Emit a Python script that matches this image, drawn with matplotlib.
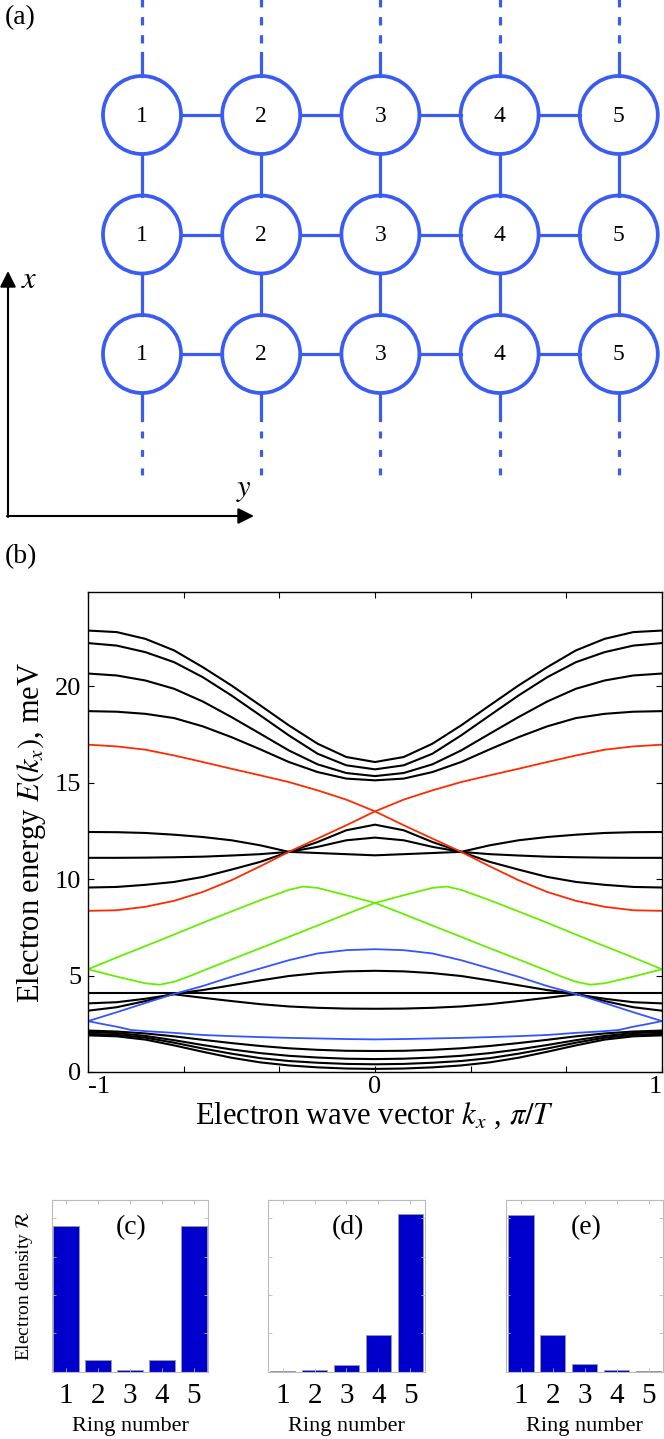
import matplotlib
matplotlib.use("Agg")
import matplotlib.pyplot as plt
import numpy as np
from matplotlib.patches import Circle

plt.rcParams['font.family'] = ['Liberation Serif', 'DejaVu Serif']
plt.rcParams['mathtext.fontset'] = 'stix'
plt.rcParams['lines.scale_dashes'] = False

# ---------------- data ----------------
# ring lattice (a)
ring_labels = ['1', '2', '3', '4', '5']
n_rows = 3

# band structure (b): values read for kx >= 0, mirrored for kx < 0
k = [0.0, 0.1, 0.2, 0.3, 0.4, 0.5, 0.6, 0.7, 0.8, 0.9, 1.0]

top1 = [16.08, 16.34, 17.03, 17.98, 19.02, 20.05, 21.00, 21.87, 22.47, 22.82, 22.90]
top2 = [15.70, 15.91, 16.51, 17.46, 18.50, 19.53, 20.48, 21.26, 21.78, 22.12, 22.25]
top3 = [15.35, 15.51, 15.96, 16.68, 17.55, 18.41, 19.22, 19.88, 20.31, 20.57, 20.67]
top4 = [15.13, 15.22, 15.56, 16.08, 16.74, 17.37, 17.93, 18.36, 18.58, 18.69, 18.72]

red_up = [13.52, 14.13, 14.61, 15.04, 15.39, 15.73, 16.08, 16.42, 16.72, 16.89, 16.98]
red_dn = [13.52, 12.80, 12.11, 11.42, 10.67, 9.95, 9.34, 8.88, 8.57, 8.39, 8.36]

mid_u = [12.83, 12.54, 11.93, 11.42, 11.76, 12.02, 12.19, 12.31, 12.40, 12.44, 12.45]
mid_m = [12.16, 12.02, 11.68, 11.42, 11.30, 11.23, 11.17, 11.14, 11.12, 11.11, 11.11]
mid_l = [11.24, 11.30, 11.36, 11.42, 10.90, 10.50, 10.12, 9.86, 9.71, 9.60, 9.57]

k_g1 = [0.0, 0.1, 0.2, 0.25, 0.3, 0.4, 0.5, 0.6, 0.7, 0.8, 0.9, 1.0]
green1 = [8.77, 9.17, 9.55, 9.62, 9.45, 8.91, 8.33, 7.74, 7.13, 6.53, 5.94, 5.33]
k_g2 = [0.0, 0.1, 0.2, 0.3, 0.4, 0.5, 0.6, 0.65, 0.7, 0.75, 0.8, 0.9, 1.0]
green2 = [8.77, 8.19, 7.60, 7.01, 6.42, 5.84, 5.25, 4.95, 4.68, 4.53, 4.60, 4.95, 5.33]

blue1 = [6.37, 6.32, 6.15, 5.80, 5.37, 4.94, 4.46, 4.05, 3.58, 3.10, 2.64]
k_b2 = [0.0, 0.1, 0.2, 0.3, 0.4, 0.5, 0.6, 0.7, 0.8, 0.85, 0.9, 0.95, 1.0]
blue2 = [1.69, 1.71, 1.74, 1.77, 1.81, 1.86, 1.92, 2.03, 2.12, 2.18, 2.35, 2.49, 2.64]

low1 = [5.25, 5.22, 5.13, 4.98, 4.75, 4.50, 4.25, 4.06, 3.68, 3.36, 3.18]
low2 = [4.08, 4.08, 4.08, 4.08, 4.08, 4.08, 4.08, 4.08, 4.08, 4.08, 4.08]
low3 = [3.28, 3.29, 3.33, 3.40, 3.52, 3.68, 3.85, 4.03, 3.80, 3.62, 3.56]

bot1 = [1.09, 1.10, 1.15, 1.23, 1.35, 1.50, 1.67, 1.85, 2.00, 2.10, 2.15]
bot2 = [0.67, 0.69, 0.75, 0.84, 0.98, 1.17, 1.40, 1.65, 1.87, 2.02, 2.08]
bot3 = [0.40, 0.42, 0.48, 0.57, 0.72, 0.95, 1.22, 1.52, 1.78, 1.93, 1.98]
bot4 = [0.16, 0.18, 0.24, 0.34, 0.50, 0.74, 1.05, 1.38, 1.68, 1.85, 1.90]

# electron density per ring (c), (d), (e)
rings = [1, 2, 3, 4, 5]
dens_c = [0.380, 0.029, 0.004, 0.029, 0.380]
dens_d = [0.0015, 0.004, 0.018, 0.096, 0.411]
dens_e = [0.410, 0.096, 0.019, 0.0035, 0.0005]

RED = '#ff2a00'
GREEN = '#66ee00'
BLUE = '#3355ff'
RING = '#3a5cf2'

fig = plt.figure(figsize=(6.64, 14.39), dpi=100)

# ---------------- (a) ring lattice ----------------
axa = fig.add_axes([0, 1 - 520 / 1439, 1, 520 / 1439])
axa.set_xlim(0, 664)
axa.set_ylim(520, 0)
axa.axis('off')

x0, dx = 142, 119.2
y0, dy = 115, 119.5
r = 39
cols = [x0 + i * dx for i in range(len(ring_labels))]
rows = [y0 + j * dy for j in range(n_rows)]

for cx, lab in zip(cols, ring_labels):
    for cy in rows:
        axa.add_patch(Circle((cx, cy), r, fill=False, ec=RING, lw=2.7))
        axa.text(cx, cy + 1, lab, ha='center', va='center', fontsize=17)
    # vertical links
    for j in range(n_rows - 1):
        axa.plot([cx, cx], [rows[j] + r, rows[j + 1] - r], color=RING, lw=2.3)
    axa.plot([cx, cx], [rows[0] - r, 53], color=RING, lw=2.3)
    axa.plot([cx, cx], [43, -2], color=RING, lw=2.3, ls=(0, (6, 7)))
    axa.plot([cx, cx], [rows[-1] + r, 420], color=RING, lw=2.3)
    axa.plot([cx, cx], [431, 476], color=RING, lw=2.3, ls=(0, (5, 8.3)))

for cy in rows:
    for i in range(len(cols) - 1):
        axa.plot([cols[i] + r, cols[i + 1] - r], [cy, cy], color=RING, lw=2.3)

axa.annotate('', xy=(8, 271), xytext=(8, 517),
             arrowprops=dict(arrowstyle='-|>', color='k', lw=1.5, mutation_scale=24,
                             shrinkA=0, shrinkB=0))
axa.annotate('', xy=(254, 516), xytext=(7, 516),
             arrowprops=dict(arrowstyle='-|>', color='k', lw=1.5, mutation_scale=24,
                             shrinkA=0, shrinkB=0))
axa.text(21, 280, '$x$', fontsize=22, va='center', ha='left')
axa.text(244, 490, '$y$', fontsize=22, va='center', ha='center')
axa.text(5, 18, '(a)', fontsize=20, va='center', ha='left')

# ---------------- (b) band structure ----------------
axb = fig.add_axes([88 / 664, 367 / 1439, 574 / 664, 480 / 1439])


def mirror(kk, ee):
    kk = np.asarray(kk)
    ee = np.asarray(ee)
    return np.concatenate([-kk[::-1], kk[1:]]), np.concatenate([ee[::-1], ee[1:]])


black_bands = [top1, top2, top3, top4, mid_u, mid_m, mid_l,
               low1, low2, low3, bot1, bot2, bot3, bot4]
for band in black_bands:
    kx, e = mirror(k, band)
    axb.plot(kx, e, color='k', lw=1.5)

for band in [red_up, red_dn]:
    kx, e = mirror(k, band)
    axb.plot(kx, e, color=RED, lw=1.3)

kx, e = mirror(k_g1, green1)
axb.plot(kx, e, color=GREEN, lw=1.3)
kx, e = mirror(k_g2, green2)
axb.plot(kx, e, color=GREEN, lw=1.3)

kx, e = mirror(k, blue1)
axb.plot(kx, e, color=BLUE, lw=1.3)
kx, e = mirror(k_b2, blue2)
axb.plot(kx, e, color=BLUE, lw=1.3)

axb.set_xlim(-1, 1)
axb.set_ylim(0, 24.9)
axb.set_xticks([-1, -2 / 3, -1 / 3, 0, 1 / 3, 2 / 3, 1])
axb.set_xticklabels(['-1', '', '', '0', '', '', '1'])
axb.set_yticks([0, 5, 10, 15, 20])
axb.tick_params(direction='in', top=True, right=True, length=4, width=0.8,
                labelsize=19)
axb.tick_params(axis='x', pad=3)
axb.tick_params(axis='y', pad=5)
xt = axb.get_xticklabels()
xt[0].set_ha('left')
xt[0].set_x(-1)
xt[-1].set_ha('right')
for s in axb.spines.values():
    s.set_linewidth(1.0)
axb.set_xlabel('Electron wave vector $k_x$ , $\\pi/T$', fontsize=22)
axb.set_ylabel('Electron energy $E(k_x)$, meV', fontsize=22)
axb.xaxis.set_label_coords(0.5, -0.06)
axb.yaxis.set_label_coords(-0.07, 0.5)
fig.text(5 / 664, 1 - 557 / 1439, '(b)', fontsize=20, va='center', ha='left')

# ---------------- (c), (d), (e) densities ----------------
bar_lefts = [51.7, 268.2, 506.4]
panels = [dens_c, dens_d, dens_e]
names = ['(c)', '(d)', '(e)']
for left, dens, name in zip(bar_lefts, panels, names):
    ax = fig.add_axes([left / 664, 67.5 / 1439, 156.5 / 664, 171.5 / 1439])
    ax.bar(rings, dens, width=0.8, color='#0000cc', edgecolor='#9a9a9a', lw=0.6)
    ax.set_xlim(0.55, 5.45)
    ax.set_ylim(0, 0.448)
    ax.set_xticks(rings)
    ax.set_yticks([0, 0.1, 0.2, 0.3, 0.4])
    ax.set_yticklabels([])
    ax.tick_params(direction='in', top=True, right=True, length=3, width=0.6,
                   color='#bbbbbb', labelsize=21, pad=8)
    for s in ax.spines.values():
        s.set_color('#bbbbbb')
        s.set_linewidth(0.8)
    ax.text(3.05, 0.375, name, fontsize=20, ha='center', va='center')
    ax.set_xlabel('Ring number', fontsize=16, labelpad=6)
    if name == '(c)':
        ax.set_ylabel('Electron density $\\mathcal{R}$', fontsize=14, labelpad=4)

fig.savefig('out.png', dpi=100)
